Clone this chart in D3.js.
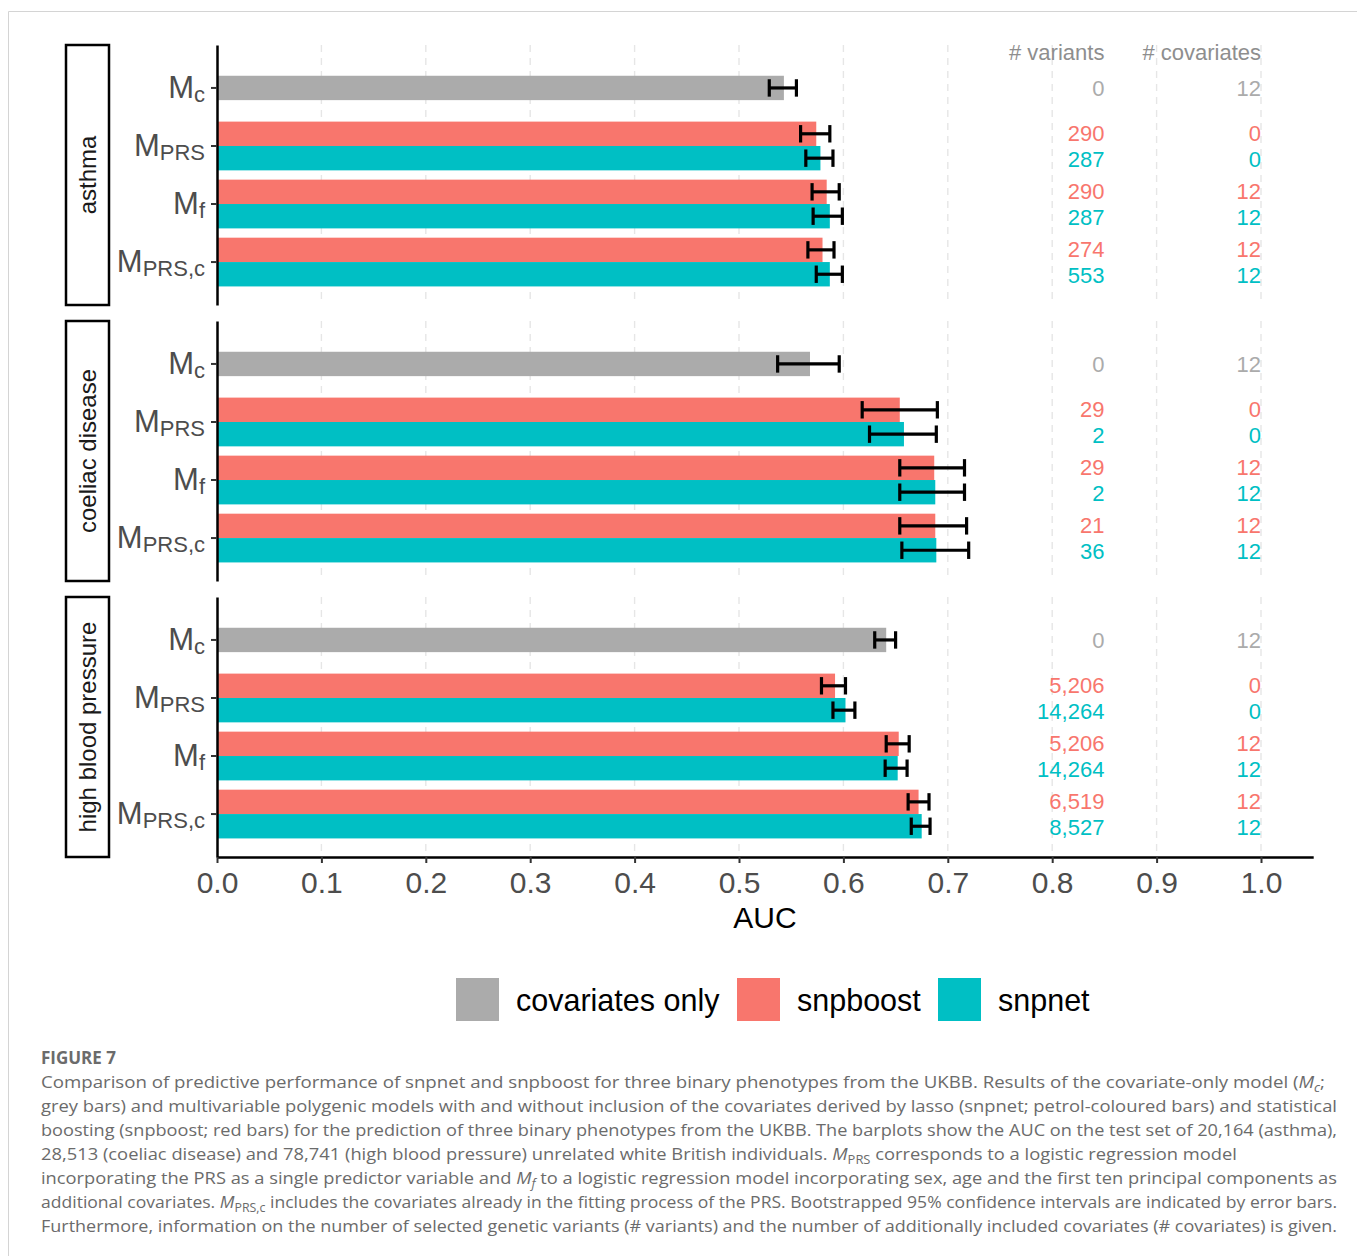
<!DOCTYPE html>
<html>
<head>
<meta charset="utf-8">
<script src="https://cdn.jsdelivr.net/npm/d3@7"></script>
<style>
  body { margin: 0; background: #fff; }
  svg { display: block; font-family: "Liberation Sans", Arial, sans-serif; }
</style>
</head>
<body>
<div id="chart"></div>
<script>
// ---- data ----
const phenotypes = ['asthma', 'coeliac disease', 'high blood pressure']
const models = ['Mc', 'MPRS', 'Mf', 'MPRS,c']
const modelSubs = ['c', 'PRS', 'f', 'PRS,c']
const methods = ['covariates only', 'snpboost', 'snpnet']
const colors = ['#ababab', '#f8766d', '#00bfc4']

// covariates only model (Mc), one per phenotype
const aucCov = [0.543, 0.568, 0.641]
const loCov = [0.529, 0.537, 0.630]
const hiCov = [0.555, 0.596, 0.650]
const varCov = [0, 0, 0]
const covCov = [12, 12, 12]

// snpboost / snpnet: rows = phenotype, cols = MPRS, Mf, MPRS,c
const aucBoost = [[0.574, 0.584, 0.580], [0.654, 0.687, 0.688], [0.592, 0.653, 0.672]]
const loBoost = [[0.559, 0.570, 0.566], [0.618, 0.654, 0.654], [0.579, 0.641, 0.662]]
const hiBoost = [[0.587, 0.596, 0.591], [0.690, 0.716, 0.718], [0.602, 0.663, 0.682]]
const aucNet = [[0.578, 0.587, 0.587], [0.658, 0.688, 0.689], [0.602, 0.652, 0.675]]
const loNet = [[0.564, 0.571, 0.574], [0.625, 0.654, 0.656], [0.590, 0.640, 0.665]]
const hiNet = [[0.590, 0.599, 0.599], [0.689, 0.716, 0.720], [0.611, 0.661, 0.683]]

const varBoost = [[290, 290, 274], [29, 29, 21], [5206, 5206, 6519]]
const varNet = [[287, 287, 553], [2, 2, 36], [14264, 14264, 8527]]
const covBoost = [[0, 12, 12], [0, 12, 12], [0, 12, 12]]
const covNet = [[0, 12, 12], [0, 12, 12], [0, 12, 12]]

const xTicks = [0, 0.1, 0.2, 0.3, 0.4, 0.5, 0.6, 0.7, 0.8, 0.9, 1.0]
const varCol = 0.85
const covCol = 1.0

// ---- layout ----
const W = 1357, H = 1256
const svg = d3.select('#chart').append('svg').attr('width', W).attr('height', H)

// figure frame
svg.append('path')
  .attr('d', `M8.5,${H} L8.5,11.5 L${W},11.5`)
  .attr('fill', 'none').attr('stroke', '#d4d4d4').attr('stroke-width', 1)

const x = d3.scaleLinear().domain([0, 1.05]).range([217, 217 + 1.05 * 1044])
const panelTops = [45, 321, 597]
const panelH = 260
const fmt = d3.format(',')

phenotypes.forEach(function(ph, p) {
  const top = panelTops[p]
  const y = d3.scaleBand().domain(models).range([top, top + panelH])
    .paddingInner(0).paddingOuter(0.24)
  const step = y.step()
  const g = svg.append('g')

  // dashed grid
  g.selectAll('.grid').data(xTicks.slice(1)).join('line')
    .attr('x1', d => x(d)).attr('x2', d => x(d))
    .attr('y1', top).attr('y2', top + panelH)
    .attr('stroke', '#e6e6e6').attr('stroke-width', 1.4)
    .attr('stroke-dasharray', '7,6')

  // build rows for this panel
  const rows = [{ m: 0, k: 0, auc: aucCov[p], lo: loCov[p], hi: hiCov[p], nv: varCov[p], nc: covCov[p] }]
  for (let j = 0; j < 3; j++) {
    rows.push({ m: j + 1, k: 1, auc: aucBoost[p][j], lo: loBoost[p][j], hi: hiBoost[p][j], nv: varBoost[p][j], nc: covBoost[p][j] })
    rows.push({ m: j + 1, k: 2, auc: aucNet[p][j], lo: loNet[p][j], hi: hiNet[p][j], nv: varNet[p][j], nc: covNet[p][j] })
  }
  const bw = 0.42 * step
  rows.forEach(function(r) {
    const c = y(models[r.m]) + y.bandwidth() / 2
    r.by = r.k === 0 ? c - bw / 2 : (r.k === 1 ? c - bw : c)
    r.cy = r.by + bw / 2
    r.ty = r.k === 0 ? c : (r.k === 1 ? c - 0.225 * step : c + 0.225 * step)
  })

  g.selectAll('.bar').data(rows).join('rect')
    .attr('x', x(0)).attr('y', d => d.by)
    .attr('width', d => x(d.auc) - x(0)).attr('height', bw)
    .attr('fill', d => colors[d.k])

  // error bars
  const cap = 0.3 * step
  const eb = g.selectAll('.eb').data(rows).join('g').attr('stroke', '#000').attr('stroke-width', 3.2)
  eb.append('line').attr('x1', d => x(d.lo)).attr('x2', d => x(d.hi)).attr('y1', d => d.cy).attr('y2', d => d.cy)
  eb.append('line').attr('x1', d => x(d.lo)).attr('x2', d => x(d.lo)).attr('y1', d => d.cy - cap / 2).attr('y2', d => d.cy + cap / 2)
  eb.append('line').attr('x1', d => x(d.hi)).attr('x2', d => x(d.hi)).attr('y1', d => d.cy - cap / 2).attr('y2', d => d.cy + cap / 2)

  // count columns
  g.selectAll('.nv').data(rows).join('text')
    .attr('x', x(varCol)).attr('y', d => d.ty).attr('dy', '0.36em')
    .attr('text-anchor', 'end').attr('font-size', 22)
    .attr('fill', d => colors[d.k]).text(d => fmt(d.nv))
  g.selectAll('.nc').data(rows).join('text')
    .attr('x', x(covCol)).attr('y', d => d.ty).attr('dy', '0.36em')
    .attr('text-anchor', 'end').attr('font-size', 22)
    .attr('fill', d => colors[d.k]).text(d => fmt(d.nc))

  if (p === 0) {
    const hy = y(models[0]) + y.bandwidth() / 2 - 0.61 * step
    g.append('text').attr('x', x(varCol)).attr('y', hy).attr('dy', '0.36em')
      .attr('text-anchor', 'end').attr('font-size', 22).attr('fill', '#8e8e8e').text('# variants')
    g.append('text').attr('x', x(covCol)).attr('y', hy).attr('dy', '0.36em')
      .attr('text-anchor', 'end').attr('font-size', 22).attr('fill', '#8e8e8e').text('# covariates')
  }

  // y axis
  const ya = g.append('g').attr('transform', `translate(${x(0)},0)`)
    .call(d3.axisLeft(y).tickSize(6).tickSizeOuter(0).tickFormat(''))
  ya.select('.domain').attr('stroke', '#000').attr('stroke-width', 2.5)
  ya.selectAll('.tick line').attr('stroke', '#333').attr('stroke-width', 2)
  ya.selectAll('.tick text').remove()
  ya.selectAll('.tick').each(function(d, i) {
    const t = d3.select(this).append('text')
      .attr('x', -12).attr('y', 10).attr('text-anchor', 'end')
      .attr('fill', '#4d4d4d').attr('font-size', 31)
    t.append('tspan').text('M')
    t.append('tspan').attr('font-size', 22).attr('dy', 4).text(modelSubs[i])
  })

  // strip
  g.append('rect').attr('x', 66).attr('y', top).attr('width', 43).attr('height', panelH)
    .attr('fill', '#fff').attr('stroke', '#000').attr('stroke-width', 2.5)
  g.append('text')
    .attr('transform', `translate(${87.5},${top + panelH / 2}) rotate(-90)`)
    .attr('text-anchor', 'middle').attr('dy', '0.36em')
    .attr('font-size', 24).attr('fill', '#1a1a1a').text(ph)
})

// x axis
const xa = svg.append('g').attr('transform', `translate(0,${panelTops[2] + panelH})`)
  .call(d3.axisBottom(x).tickValues(xTicks).tickFormat(d3.format('.1f')).tickSize(6).tickSizeOuter(0).tickPadding(9))
xa.select('.domain').attr('stroke', '#000').attr('stroke-width', 2.5)
xa.selectAll('.tick line').attr('stroke', '#333').attr('stroke-width', 2)
xa.selectAll('.tick text').attr('font-size', 30).attr('fill', '#4d4d4d').attr('font-family', '"Liberation Sans", Arial, sans-serif')
svg.append('text').attr('x', 765).attr('y', 928).attr('text-anchor', 'middle')
  .attr('font-size', 30).attr('fill', '#000').text('AUC')

// legend
const legendX = [456, 737, 938]
methods.forEach(function(m, i) {
  svg.append('rect').attr('x', legendX[i]).attr('y', 978).attr('width', 43).attr('height', 43).attr('fill', colors[i])
  svg.append('text').attr('x', legendX[i] + 60).attr('y', 1000).attr('dy', '0.36em')
    .attr('font-size', 30.5).attr('fill', '#000').text(m)
})

// caption
svg.append('text').attr('x', 41).attr('y', 1064).attr('font-family', '"Open Sans", sans-serif')
  .attr('font-size', 17).attr('font-weight', 'bold').attr('fill', '#6b6b6b').text('FIGURE 7')

const capLines = [
  [['Comparison of predictive performance of snpnet and snpboost for three binary phenotypes from the UKBB. Results of the covariate-only model ('], ['M', 'i'], ['c', 'is'], [';']],
  [['grey bars) and multivariable polygenic models with and without inclusion of the covariates derived by lasso (snpnet; petrol-coloured bars) and statistical']],
  [['boosting (snpboost; red bars) for the prediction of three binary phenotypes from the UKBB. The barplots show the AUC on the test set of 20,164 (asthma),']],
  [['28,513 (coeliac disease) and 78,741 (high blood pressure) unrelated white British individuals. '], ['M', 'i'], ['PRS', 's'], [' corresponds to a logistic regression model']],
  [['incorporating the PRS as a single predictor variable and '], ['M', 'i'], ['f', 'is'], [' to a logistic regression model incorporating sex, age and the first ten principal components as']],
  [['additional covariates. '], ['M', 'i'], ['PRS,c', 's'], [' includes the covariates already in the fitting process of the PRS. Bootstrapped 95% confidence intervals are indicated by error bars.']],
  [['Furthermore, information on the number of selected genetic variants (# variants) and the number of additionally included covariates (# covariates) is given.']]
]
const capEnds = [1325, 1337, 1337, 1237, 1337, 1337, 1337]
capLines.forEach(function(parts, i) {
  const t = svg.append('text').attr('x', 41).attr('y', 1088 + i * 24)
    .attr('font-family', '"Open Sans", sans-serif').attr('font-size', 17).attr('fill', '#6b6b6b')
    .attr('textLength', capEnds[i] - 41).attr('lengthAdjust', 'spacingAndGlyphs')
  let shifted = false
  parts.forEach(function(pt) {
    const s = t.append('tspan').text(pt[0])
    const st = pt[1] || ''
    if (st.includes('i')) s.attr('font-style', 'italic')
    if (st.includes('s')) { s.attr('font-size', 12).attr('dy', 4); shifted = true }
    else if (shifted) { s.attr('dy', -4); shifted = false }
  })
})
</script>
</body>
</html>
